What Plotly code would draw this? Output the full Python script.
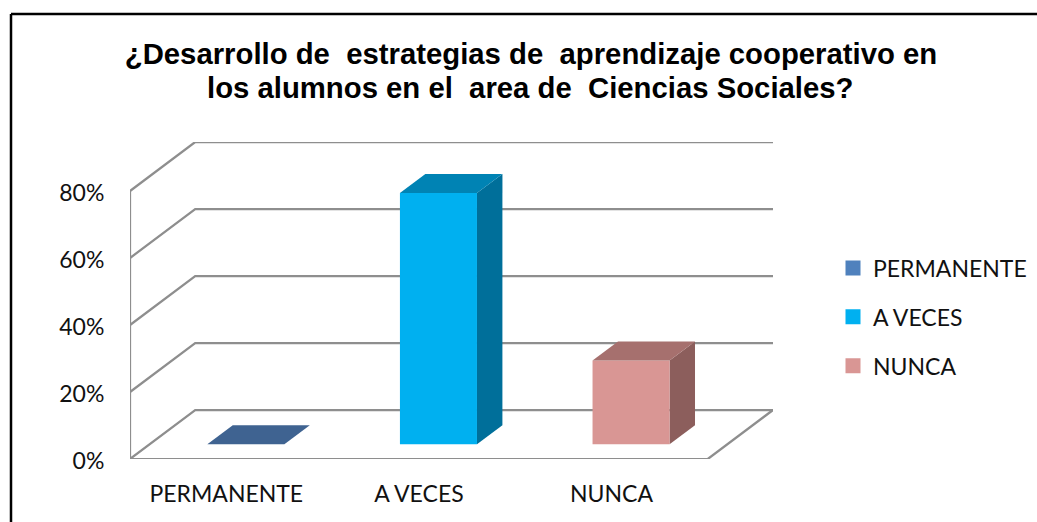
import plotly.graph_objects as go

WIDTH = 1037
HEIGHT = 522

title_lines = ["¿Desarrollo de  estrategias de  aprendizaje cooperativo en",
               "los alumnos en el  area de  Ciencias Sociales?"]
categories = ["PERMANENTE", "A VECES", "NUNCA"]
values = [0, 75, 25]
y_ticks = [0, 20, 40, 60, 80]
y_labels = ["0%", "20%", "40%", "60%", "80%"]
front_colors = ["#4F81BD", "#00B0F0", "#D99694"]
top_colors = ["#3F6391", "#0083B4", "#A6706E"]
side_colors = ["#2F4B6E", "#006F9A", "#8C5E5C"]

# plot area in pixels: floor front-left corner to the top of the back wall
LEFT, RIGHT, BOTTOM, TOP = 130, 773, 459, 142
PX_PER_CAT = 192
PX_PER_PCT = 3.35
# oblique projection, one full depth of the floor in axis units
DEPTH_X = 65 / PX_PER_CAT
DEPTH_Y = 49 / PX_PER_PCT
# bars sit between these fractions of the depth
BAR_NEAR, BAR_FAR = 0.30, 0.69
BAR_WIDTH = 0.40
GRID_COLOR = "#8E8E8E"
TITLE_SIZE = 29.3


def project(x, y, depth):
    return x + depth * DEPTH_X, y + depth * DEPTH_Y


def polygon(points, color, name):
    return go.Scatter(x=[p[0] for p in points] + [points[0][0]],
                      y=[p[1] for p in points] + [points[0][1]],
                      mode="lines", fill="toself", fillcolor=color,
                      line=dict(width=0, color=color), name=name,
                      showlegend=False, hoverinfo="name", cliponaxis=False)


def paper_x(px):
    return (px - LEFT) / (RIGHT - LEFT)


def paper_y(px):
    return (BOTTOM - px) / (BOTTOM - TOP)


fig = go.Figure()

# walls and floor
grid_x, grid_y = [], []
x_start, x_end = -0.5, len(categories) - 0.5
for tick in y_ticks:
    back_left = project(x_start, tick, 1)
    back_right = project(x_end, tick, 1)
    grid_x += [x_start, back_left[0], back_right[0], None]
    grid_y += [tick, back_left[1], back_right[1], None]
grid_x += [x_start, x_start, None, x_start, x_end, project(x_end, 0, 1)[0]]
grid_y += [max(y_ticks), 0, None, 0, 0, project(x_end, 0, 1)[1]]
fig.add_trace(go.Scatter(x=grid_x, y=grid_y, mode="lines", showlegend=False,
                         line=dict(color=GRID_COLOR, width=2.25),
                         hoverinfo="skip", cliponaxis=False))

# 3d bars
for i, (cat, val) in enumerate(zip(categories, values)):
    x0, x1 = i - BAR_WIDTH / 2, i + BAR_WIDTH / 2
    fig.add_trace(polygon([project(x1, 0, BAR_NEAR), project(x1, 0, BAR_FAR),
                           project(x1, val, BAR_FAR), project(x1, val, BAR_NEAR)],
                          side_colors[i], cat))
    fig.add_trace(polygon([project(x0, 0, BAR_NEAR), project(x1, 0, BAR_NEAR),
                           project(x1, val, BAR_NEAR), project(x0, val, BAR_NEAR)],
                          front_colors[i], cat))
    fig.add_trace(polygon([project(x0, val, BAR_NEAR), project(x1, val, BAR_NEAR),
                           project(x1, val, BAR_FAR), project(x0, val, BAR_FAR)],
                          top_colors[i], cat))

# legend entries
for i, cat in enumerate(categories):
    fig.add_trace(go.Scatter(x=[None], y=[None], mode="markers", name=cat,
                             legendgroup=cat,
                             marker=dict(symbol="square", size=15, color=front_colors[i])))

title_font = dict(family="Liberation Sans", size=TITLE_SIZE, color="black", weight="bold")

fig.update_layout(
    width=WIDTH,
    height=HEIGHT,
    paper_bgcolor="white",
    plot_bgcolor="white",
    margin=dict(l=LEFT, r=WIDTH - RIGHT, t=TOP, b=HEIGHT - BOTTOM, autoexpand=False),
    font=dict(family="Lato", size=23, color="#111111"),
    # the two title lines sit closer than a <br> would put them
    title=dict(text=title_lines[0], x=531 / WIDTH, xanchor="center",
               y=1 - 54 / HEIGHT, yanchor="middle", yref="container", font=title_font),
    annotations=[dict(text=title_lines[1], xref="paper", yref="paper", showarrow=False,
                      x=paper_x(530), y=paper_y(87), xanchor="center", yanchor="middle",
                      font=title_font)],
    xaxis=dict(range=[x_start, x_end + DEPTH_X], tickvals=list(range(len(categories))),
               ticktext=categories, showgrid=False, zeroline=False, showline=False,
               ticks="outside", ticklen=14, tickcolor="rgba(0,0,0,0)"),
    yaxis=dict(range=[0, max(y_ticks) + DEPTH_Y], tickvals=y_ticks, ticktext=y_labels,
               showgrid=False, zeroline=False, showline=False, ticklabelshift=2,
               ticks="outside", ticklen=20, tickcolor="rgba(0,0,0,0)"),
    legend=dict(x=paper_x(839), y=paper_y(317), yanchor="middle", xanchor="left",
                tracegroupgap=16, indentation=-6, bgcolor="rgba(0,0,0,0)"),
    shapes=[dict(type="line", xref="paper", yref="paper", x0=paper_x(11), x1=paper_x(WIDTH),
                 y0=paper_y(14), y1=paper_y(14), line=dict(color="black", width=2.5)),
            dict(type="line", xref="paper", yref="paper", x0=paper_x(11), x1=paper_x(11),
                 y0=paper_y(14), y1=paper_y(HEIGHT), line=dict(color="black", width=2.5))],
)

fig.write_html("out.html", config={"displayModeBar": False},
               post_script="document.body.style.margin='0';document.body.style.overflow='hidden';")
